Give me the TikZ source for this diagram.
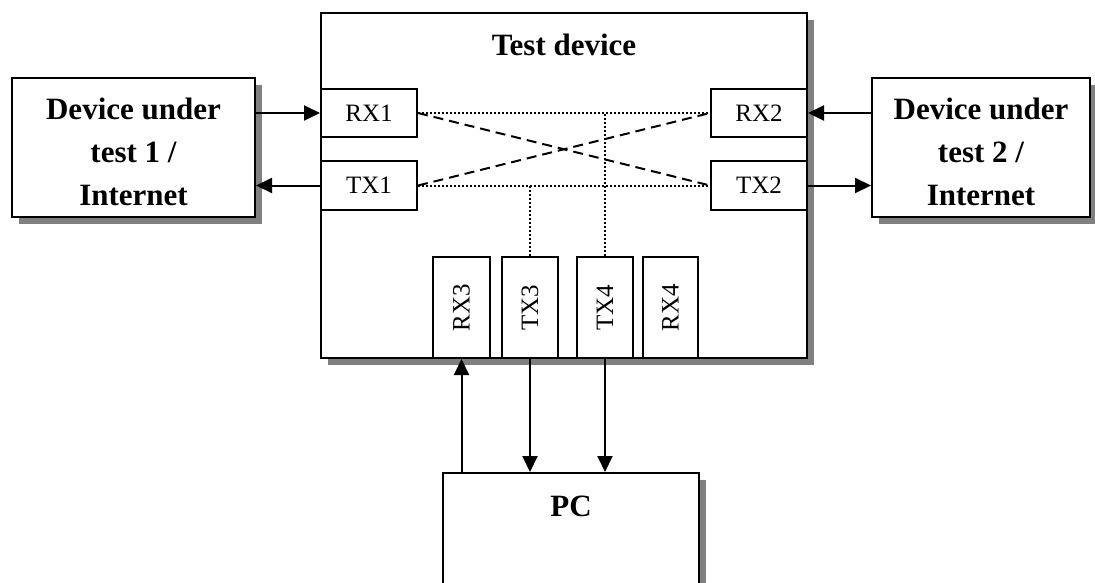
\documentclass[tikz,border=0pt]{standalone}
\usepackage{fontspec}
\setmainfont{Liberation Serif}
\usepackage{graphicx}
\usetikzlibrary{arrows.meta,shadows}
\tikzset{
  lw/.style={line width=2pt},
  shadowed/.style={drop shadow={shadow xshift=7pt, shadow yshift=-7pt, fill=black!50, opacity=1}},
  bigbox/.style={draw, lw, fill=white, shadowed, inner sep=0pt, align=center,
     font=\fontsize{31}{43}\selectfont\bfseries},
  portbox/.style={draw, lw, fill=white, inner sep=0pt, font=\fontsize{25}{30}\selectfont},
  conn/.style={lw, -{Triangle[length=16pt,width=15pt]}},
  dotline/.style={line width=2pt, dash pattern=on 2pt off 2pt},
  dashline/.style={line width=2pt, dash pattern=on 10pt off 6pt},
  boldlabel/.style={font=\fontsize{31}{43}\selectfont\bfseries, inner sep=0pt}
}
\begin{document}
\begin{tikzpicture}[x=1pt,y=-1pt]
\useasboundingbox (0,0) rectangle (1095,583);
\clip (0,0) rectangle (1095,583);
\fill[white] (0,0) rectangle (1095,583);

% main boxes
\node[bigbox, minimum width=486pt, minimum height=345pt] (test) at (564,185.5) {};
\node[boldlabel] (testlbl) at (564,45) {Test device};
\node[bigbox, minimum width=243pt, minimum height=139pt] (dut1) at (133.5,147.5) {};
\node[boldlabel, align=center] (dut1lbl) at (133.5,152) {Device under\\test 1 /\\Internet};
\node[bigbox, minimum width=218pt, minimum height=139pt] (dut2) at (981,147.5) {};
\node[boldlabel, align=center] (dut2lbl) at (981,152) {Device under\\test 2 /\\Internet};
\node[bigbox, minimum width=256pt, minimum height=160pt] (pc) at (571,553) {};
\node[boldlabel] (pclbl) at (571,506) {PC};

% side ports
\node[portbox, minimum width=96pt, minimum height=48pt] (rx1) at (369,113) {RX1};
\node[portbox, minimum width=96pt, minimum height=49pt] (tx1) at (369,185.5) {TX1};
\node[portbox, minimum width=96pt, minimum height=48pt] (rx2) at (759,113) {RX2};
\node[portbox, minimum width=96pt, minimum height=49pt] (tx2) at (759,185.5) {TX2};

% bottom ports
\node[portbox, minimum width=57pt, minimum height=101pt] (rx3) at (461.5,307.5) {\rotatebox{90}{RX3}};
\node[portbox, minimum width=56pt, minimum height=101pt] (tx3) at (530,307.5) {\rotatebox{90}{TX3}};
\node[portbox, minimum width=56pt, minimum height=101pt] (tx4) at (605,307.5) {\rotatebox{90}{TX4}};
\node[portbox, minimum width=55pt, minimum height=101pt] (rx4) at (670.5,307.5) {\rotatebox{90}{RX4}};

% internal links
\draw[dotline] (rx1.east) -- (rx2.west);
\draw[dotline] (tx1.east) -- (tx2.west);
\draw[dashline] (rx1.east) -- (tx2.west);
\draw[dashline] (tx1.east) -- (rx2.west);
\draw[dotline] (tx3.north) -- (tx3.north |- tx1.east);
\draw[dotline] (tx4.north) -- (tx4.north |- rx1.east);

% external connectors
\draw[conn] (dut1.east |- rx1.west) -- (rx1.west);
\draw[conn] (tx1.west) -- (dut1.east |- tx1.west);
\draw[conn] (dut2.west |- rx2.east) -- (rx2.east);
\draw[conn] (tx2.east) -- (dut2.west |- tx2.east);
\draw[conn] (rx3.south |- pc.north) -- (rx3.south);
\draw[conn] (tx3.south) -- (tx3.south |- pc.north);
\draw[conn] (tx4.south) -- (tx4.south |- pc.north);
\end{tikzpicture}
\end{document}
